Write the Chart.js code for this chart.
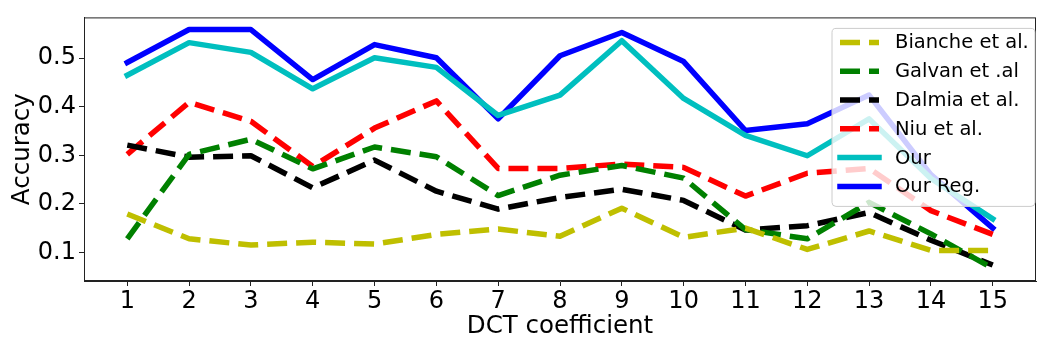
<!DOCTYPE html>
<html>
<head>
<meta charset="utf-8">
<script src="https://cdn.jsdelivr.net/npm/chart.js@4"></script>
<style>
  body { margin: 0; background: #fff; }
</style>
</head>
<body>
<canvas id="chart" width="1050" height="350"></canvas>
<script>
// values
const coeffs  = [1, 2, 3, 4, 5, 6, 7, 8, 9, 10, 11, 12, 13, 14, 15];
const bianche = [0.179, 0.128, 0.115, 0.121, 0.117, 0.137, 0.148, 0.133, 0.191, 0.131, 0.150, 0.106, 0.144, 0.104, 0.104];
const galvan  = [0.128, 0.302, 0.333, 0.272, 0.317, 0.297, 0.217, 0.259, 0.279, 0.253, 0.147, 0.128, 0.203, 0.138, 0.067];
const dalmia  = [0.321, 0.296, 0.299, 0.233, 0.290, 0.226, 0.189, 0.213, 0.230, 0.207, 0.146, 0.155, 0.182, 0.125, 0.074];
const niu     = [0.302, 0.409, 0.370, 0.277, 0.356, 0.412, 0.273, 0.273, 0.282, 0.275, 0.216, 0.263, 0.273, 0.186, 0.137];
const our     = [0.465, 0.532, 0.512, 0.437, 0.501, 0.481, 0.382, 0.424, 0.536, 0.417, 0.341, 0.299, 0.375, 0.252, 0.169];
const ourReg  = [0.491, 0.559, 0.559, 0.456, 0.528, 0.501, 0.375, 0.505, 0.553, 0.493, 0.351, 0.365, 0.424, 0.260, 0.150];
const yTicks  = [0.1, 0.2, 0.3, 0.4, 0.5];

const FONT = "'DejaVu Sans', sans-serif";

function pts(arr) {
    return coeffs.map((c, i) => ({ x: c, y: arr[i] }));
}

function series(label, arr, color, dashed) {
    return {
        label: label,
        data: pts(arr),
        borderColor: color,
        backgroundColor: color,
        borderWidth: 5.5,
        borderDash: dashed ? [20, 9] : [],
        borderCapStyle: dashed ? 'butt' : 'square',
        borderJoinStyle: 'round',
        pointRadius: 0,
        tension: 0,
        fill: false
    };
}

// matplotlib style frame + legend box inside the plot
const frameAndLegend = {
    id: 'frameAndLegend',
    afterDatasetsDraw(chart) {
        const ctx = chart.ctx, a = chart.chartArea;
        ctx.save();
        ctx.strokeStyle = '#222';
        ctx.lineWidth = 1;
        ctx.strokeRect(a.left + 0.5, a.top + 0.5, a.right - a.left - 1, a.bottom - a.top - 1);

        const w = 203, h = 178;
        const x0 = a.right - w - 1, y0 = a.top + 11;
        ctx.beginPath();
        ctx.roundRect(x0, y0, w, h, 4);
        ctx.fillStyle = 'rgba(255,255,255,0.8)';
        ctx.fill();
        ctx.strokeStyle = '#cccccc';
        ctx.stroke();

        ctx.font = '19.5px ' + FONT;
        ctx.textBaseline = 'middle';
        chart.data.datasets.forEach((ds, i) => {
            const y = y0 + 14 + i * 28.8;
            ctx.beginPath();
            ctx.setLineDash(ds.borderDash);
            ctx.lineCap = ds.borderCapStyle;
            ctx.lineWidth = ds.borderWidth;
            ctx.strokeStyle = ds.borderColor;
            ctx.moveTo(x0 + 8, y);
            ctx.lineTo(x0 + 47, y);
            ctx.stroke();
            ctx.setLineDash([]);
            ctx.fillStyle = '#000';
            ctx.fillText(ds.label, x0 + 63, y + 1);
        });
        ctx.restore();
    }
};

const data = {
    datasets: [
        series('Bianche et al.', bianche, '#bfbf00', true),
        series('Galvan et .al', galvan, '#008000', true),
        series('Dalmia et al.', dalmia, '#000000', true),
        series('Niu et al.', niu, '#ff0000', true),
        series('Our', our, '#00bfbf', false),
        series('Our Reg.', ourReg, '#0000ff', false)
    ]
};

const config = {
    type: 'line',
    data: data,
    options: {
        responsive: false,
        animation: false,
        layout: { padding: { top: 14, right: 14, left: 0, bottom: 0 } },
        plugins: { legend: { display: false }, tooltip: { enabled: false } },
        scales: {
            x: {
                type: 'linear',
                min: 0.3,
                max: 15.7,
                afterBuildTicks: s => { s.ticks = coeffs.map(v => ({ value: v })); },
                afterFit: s => { s.height = 69; },
                grid: { drawOnChartArea: false, drawTicks: true, tickLength: 5, color: '#222' },
                border: { display: true, color: '#222' },
                ticks: { color: '#000', font: { family: FONT, size: 24 }, padding: 1, maxRotation: 0,
                         callback: v => String(v) },
                title: { display: true, text: 'DCT coefficient', color: '#000',
                         font: { family: FONT, size: 24.5 }, padding: { top: 0, bottom: 9 } }
            },
            y: {
                min: 0.041,
                max: 0.584,
                afterBuildTicks: s => { s.ticks = yTicks.map(v => ({ value: v })); },
                afterFit: s => { s.width = 84; },
                grid: { drawOnChartArea: false, drawTicks: true, tickLength: 5, color: '#222' },
                border: { display: true, color: '#222' },
                ticks: { color: '#000', font: { family: FONT, size: 24 }, padding: 3,
                         callback: v => v.toFixed(1) },
                title: { display: true, text: 'Accuracy', color: '#000',
                         font: { family: FONT, size: 24.5 }, padding: { top: 8, bottom: 0 } }
            }
        }
    },
    plugins: [frameAndLegend]
};

new Chart(document.getElementById('chart').getContext('2d'), config);
</script>
</body>
</html>
